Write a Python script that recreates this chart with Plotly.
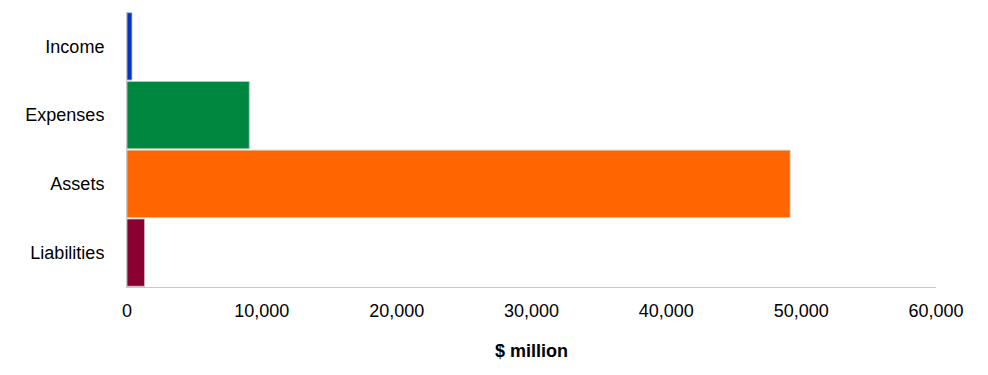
import plotly.graph_objects as go

categories = ["Income", "Expenses", "Assets", "Liabilities"]
values = [370, 9070, 49180, 1305]
colors = ["#0033CC", "#00873F", "#FF6600", "#8A0030"]
x_ticks = [0, 10000, 20000, 30000, 40000, 50000, 60000]

fig = go.Figure(go.Bar(
    y=categories, x=values, orientation="h",
    marker=dict(color=colors, line=dict(color="rgba(200,200,200,0.8)", width=1)),
))

fig.update_layout(
    width=988, height=375,
    margin=dict(l=127, r=52, t=12, b=88),
    paper_bgcolor="white", plot_bgcolor="white",
    bargap=0.02, showlegend=False,
    font=dict(family="Liberation Sans, Arial, sans-serif", size=18, color="#000000"),
)
fig.update_xaxes(
    range=[0, 60000], tickvals=x_ticks, tickformat=",d",
    showgrid=False, zeroline=False, showline=True, linecolor="#C8C8C8", linewidth=1,
    ticks="", ticklabelstandoff=7,
    title=dict(text="<b>$ million</b>", font=dict(size=18), standoff=24),
)
fig.update_yaxes(
    categoryorder="array", categoryarray=categories[::-1],
    showgrid=False, zeroline=False, showline=True, linecolor="#C8C8C8", linewidth=1,
    ticks="", ticklabelstandoff=18,
)

fig.write_html("out.html")
